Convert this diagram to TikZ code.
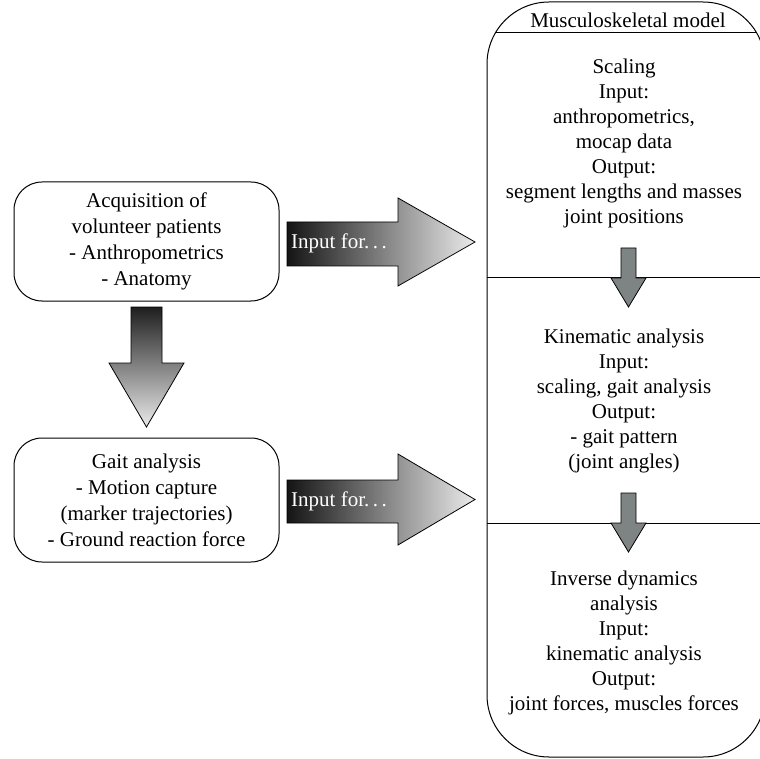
\documentclass[tikz,border=0pt]{standalone}
\usepackage{fontspec}
\setmainfont{Liberation Serif}
\definecolor{arrowgray}{RGB}{125,132,131}
\begin{document}
\begin{tikzpicture}[x=1pt,y=-1pt,
  leftbox/.style={draw, line width=1pt, rounded corners=28pt, align=center,
    font=\fontsize{21}{26}\selectfont, inner sep=0pt},
  rtxt/.style={align=center, font=\fontsize{21}{25}\selectfont, inner sep=0pt},
  bigarrow/.style={draw=black, line width=0.8pt},
  smallarrow/.style={draw=black, line width=0.8pt, fill=arrowgray},
  sepline/.style={line width=1pt},
  arrowtext/.style={anchor=west, text=white, font=\fontsize{21}{25}\selectfont, inner sep=0pt},
]
\useasboundingbox (0,0) rectangle (760,759);
\clip (0,0) rectangle (760,759);

% left boxes
\node[leftbox, minimum width=265pt, minimum height=119pt] (acq) at (146.5,241.5)
  {Acquisition of\\volunteer patients\\- Anthropometrics\\- Anatomy};
\node[leftbox, minimum width=265pt, minimum height=124pt] (gait) at (146.5,500)
  {Gait analysis\\- Motion capture\\(marker trajectories)\\- Ground reaction force};

% right box
\node[draw, line width=1pt, rounded corners=62pt, minimum width=278pt, minimum height=755pt, inner sep=0pt]
  (msm) at (626,379.5) {};
\begin{scope}
  \clip[rounded corners=62pt] (487,2) rectangle (765,757);
  \draw[sepline] (480,33) -- (770,33);
  \draw[sepline] (480,278) -- (770,278);
  \draw[sepline] (480,523) -- (770,523);
\end{scope}
\node[rtxt] (title) at (628,20) {Musculoskeletal model};
\node[rtxt] (scal) at (624,143) {Scaling\\Input:\\anthropometrics,\\mocap data\\Output:\\segment lengths and masses\\joint positions};
\node[rtxt] (kin) at (624,400.5) {Kinematic analysis\\Input:\\scaling, gait analysis\\Output:\\- gait pattern\\(joint angles)};
\node[rtxt] (inv) at (624,642.5) {Inverse dynamics\\analysis\\Input:\\kinematic analysis\\Output:\\joint forces, muscles forces};

% big horizontal arrows
\draw[bigarrow, left color=black!92, right color=black!8]
  (287,222) -- (398,222) -- (398,198) -- (475,242) -- (398,286) -- (398,266) -- (287,266) -- cycle;
\node[arrowtext] (in1) at (291,243) {Input for.\,.\,.};
\draw[bigarrow, left color=black!92, right color=black!8]
  (287,480) -- (398,480) -- (398,454) -- (475,499.5) -- (398,545) -- (398,523) -- (287,523) -- cycle;
\node[arrowtext] (in2) at (291,501) {Input for.\,.\,.};

% down arrow
\draw[bigarrow, top color=black!88, bottom color=black!8]
  (131,307) -- (162,307) -- (162,363) -- (184,363) -- (146.5,427) -- (109,363) -- (131,363) -- cycle;

% small arrows
\draw[smallarrow] (621,248) -- (636,248) -- (636,278) -- (646,278) -- (628.5,307) -- (611,278) -- (621,278) -- cycle;
\draw[smallarrow] (621,493) -- (636,493) -- (636,523) -- (646,523) -- (628.5,552) -- (611,523) -- (621,523) -- cycle;
\end{tikzpicture}
\end{document}
